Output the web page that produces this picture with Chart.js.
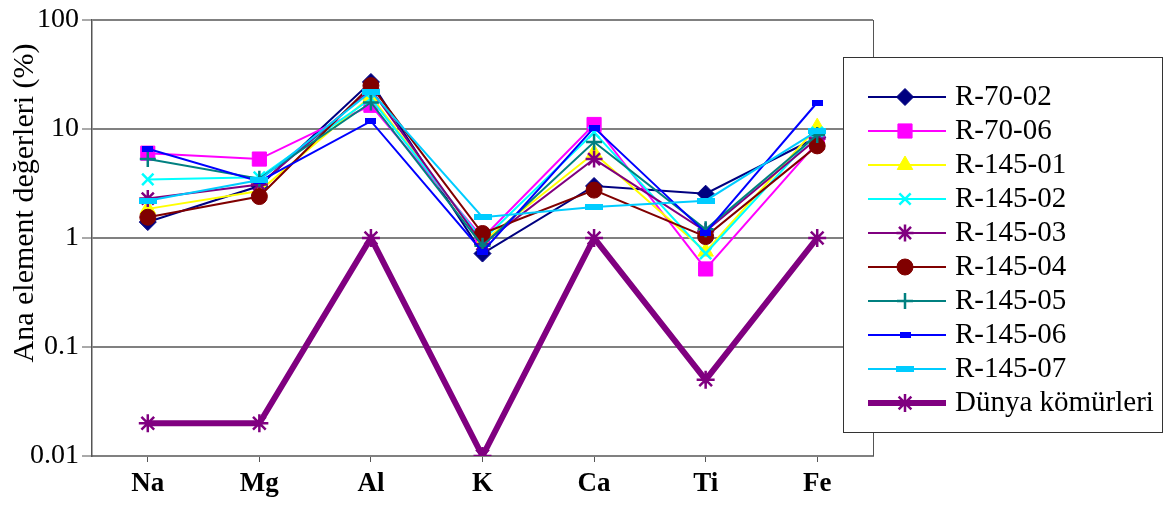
<!DOCTYPE html>
<html>
<head>
<meta charset="utf-8">
<script src="https://cdn.jsdelivr.net/npm/chart.js@4.4.0/dist/chart.umd.min.js"></script>
<style>
html, body { margin: 0; padding: 0; background: #fff; }
</style>
</head>
<body>
<canvas id="chart" width="1166" height="506"></canvas>
<script>
// Data (log scale)
const elements = ['Na', 'Mg', 'Al', 'K', 'Ca', 'Ti', 'Fe'];
const yTicks = [0.01, 0.1, 1, 10, 100];
const yTitle = 'Ana element değerleri (%)';

const r7002 = [1.4, 3.0, 27, 0.72, 3.0, 2.55, 8.4];
const r7006 = [6.0, 5.3, 16.5, 1.0, 11.0, 0.52, 7.5];
const r14501 = [1.85, 2.7, 20, 0.92, 6.0, 0.75, 10.4];
const r14502 = [3.45, 3.6, 19, 0.95, 9.3, 0.72, 9.3];
const r14503 = [2.3, 3.1, 23, 0.88, 5.3, 1.15, 8.2];
const r14504 = [1.55, 2.4, 25, 1.1, 2.75, 1.03, 7.0];
const r14505 = [5.3, 3.5, 17.5, 0.85, 7.6, 1.2, 8.8];
const r14506 = [6.6, 3.3, 11.8, 0.75, 10.3, 1.12, 17.5];
const r14507 = [2.2, 3.4, 22, 1.55, 1.92, 2.2, 9.6];
const dunya = [0.02, 0.02, 1, 0.01, 1, 0.05, 1];

const FONT = "'Liberation Serif', 'Times New Roman', serif";

// small dash markers used by R-145-06 / R-145-07
function dashImage(w, h, color) {
    const c = document.createElement('canvas');
    c.width = w;
    c.height = h;
    const g = c.getContext('2d');
    g.fillStyle = color;
    g.fillRect(0, 0, w, h);
    return c;
}

function series(label, data, color, style, radius, extra) {
    return Object.assign({
        label: label,
        data: data,
        borderColor: color,
        backgroundColor: color,
        borderWidth: 2,
        pointStyle: style,
        pointRadius: radius,
        pointHoverRadius: radius,
        pointBorderWidth: 1,
        pointBackgroundColor: color,
        pointBorderColor: color,
        tension: 0
    }, extra || {});
}

const datasets = [
    series('R-70-02', r7002, '#000080', 'rectRot', 8.5),
    series('R-70-06', r7006, '#FF00FF', 'rect', 10),
    series('R-145-01', r14501, '#FFFF00', 'triangle', 9),
    series('R-145-02', r14502, '#00FFFF', 'crossRot', 8, { pointBorderWidth: 2.5 }),
    series('R-145-03', r14503, '#800080', 'star', 8.5, { pointBorderWidth: 2.5 }),
    series('R-145-04', r14504, '#800000', 'circle', 8),
    series('R-145-05', r14505, '#008080', 'cross', 8, { pointBorderWidth: 2.5 }),
    series('R-145-06', r14506, '#0000FF', dashImage(11, 6, '#0000FF'), 6),
    series('R-145-07', r14507, '#00CCFF', dashImage(18, 6, '#00CCFF'), 6),
    series('Dünya kömürleri', dunya, '#800080', 'star', 9, { borderWidth: 6, pointBorderWidth: 2.5 })
];
// later series on top, like the original
datasets.forEach((d, i) => { d.order = datasets.length - i; });

// right border of the plot area + vertical y title
const plotFrame = {
    id: 'plotFrame',
    beforeDatasetsDraw(chart) {
        const a = chart.chartArea;
        const ctx = chart.ctx;
        ctx.save();
        ctx.strokeStyle = '#555';
        ctx.lineWidth = 1;
        ctx.beginPath();
        ctx.moveTo(a.right + 0.5, a.top);
        ctx.lineTo(a.right + 0.5, a.bottom);
        ctx.stroke();

        ctx.translate(25, 203);
        ctx.rotate(-Math.PI / 2);
        ctx.fillStyle = '#000';
        ctx.font = '30px ' + FONT;
        ctx.textAlign = 'center';
        ctx.textBaseline = 'middle';
        ctx.fillText(yTitle, 0, 0);
        ctx.restore();
    }
};

// legend box drawn over the right part of the plot
const boxLegend = {
    id: 'boxLegend',
    afterDraw(chart) {
        const ctx = chart.ctx;
        const sets = chart.data.datasets;
        ctx.save();
        ctx.fillStyle = '#fff';
        ctx.fillRect(843, 57, 320, 376);
        ctx.strokeStyle = '#333';
        ctx.lineWidth = 1;
        ctx.strokeRect(843.5, 57.5, 319, 375);

        sets.forEach((d, i) => {
            const y = 97 + i * 34;
            ctx.strokeStyle = d.borderColor;
            ctx.lineWidth = d.borderWidth;
            ctx.beginPath();
            ctx.moveTo(868, y);
            ctx.lineTo(946, y);
            ctx.stroke();

            ctx.fillStyle = d.pointBackgroundColor;
            ctx.strokeStyle = d.pointBorderColor;
            ctx.lineWidth = d.pointBorderWidth;
            Chart.helpers.drawPoint(ctx, {
                pointStyle: d.pointStyle,
                rotation: 0,
                radius: d.pointRadius,
                borderWidth: d.pointBorderWidth
            }, 905, y);

            ctx.fillStyle = '#000';
            ctx.font = '29px ' + FONT;
            ctx.textAlign = 'left';
            ctx.textBaseline = 'middle';
            ctx.fillText(d.label, 955, y);
        });
        ctx.restore();
    }
};

new Chart(document.getElementById('chart').getContext('2d'), {
    type: 'line',
    data: {
        labels: elements,
        datasets: datasets
    },
    options: {
        responsive: false,
        animation: false,
        layout: {
            padding: { left: 0, top: 20, right: 293, bottom: 0 }
        },
        plugins: {
            legend: { display: false },
            tooltip: { enabled: false }
        },
        scales: {
            x: {
                offset: true,
                afterFit: s => { s.height = 50; },
                ticks: {
                    color: '#000',
                    padding: 6,
                    font: { family: FONT, size: 27, weight: 'bold' }
                },
                grid: {
                    display: true,
                    drawOnChartArea: false,
                    offset: false,
                    tickLength: 6,
                    tickColor: '#555',
                    tickWidth: 1
                },
                border: { display: true, color: '#808080', width: 2 }
            },
            y: {
                type: 'logarithmic',
                min: 0.01,
                max: 100,
                afterBuildTicks: s => { s.ticks = yTicks.map(v => ({ value: v })); },
                afterFit: s => { s.width = 92; },
                ticks: {
                    color: '#000',
                    padding: 3,
                    font: { family: FONT, size: 28 },
                    callback: v => String(v)
                },
                grid: {
                    color: '#808080',
                    lineWidth: 2,
                    tickLength: 10,
                    tickColor: '#555',
                    tickWidth: 1
                },
                border: { display: true, color: '#555', width: 1.5 },
                title: { display: false }
            }
        }
    },
    plugins: [plotFrame, boxLegend]
});
</script>
</body>
</html>
